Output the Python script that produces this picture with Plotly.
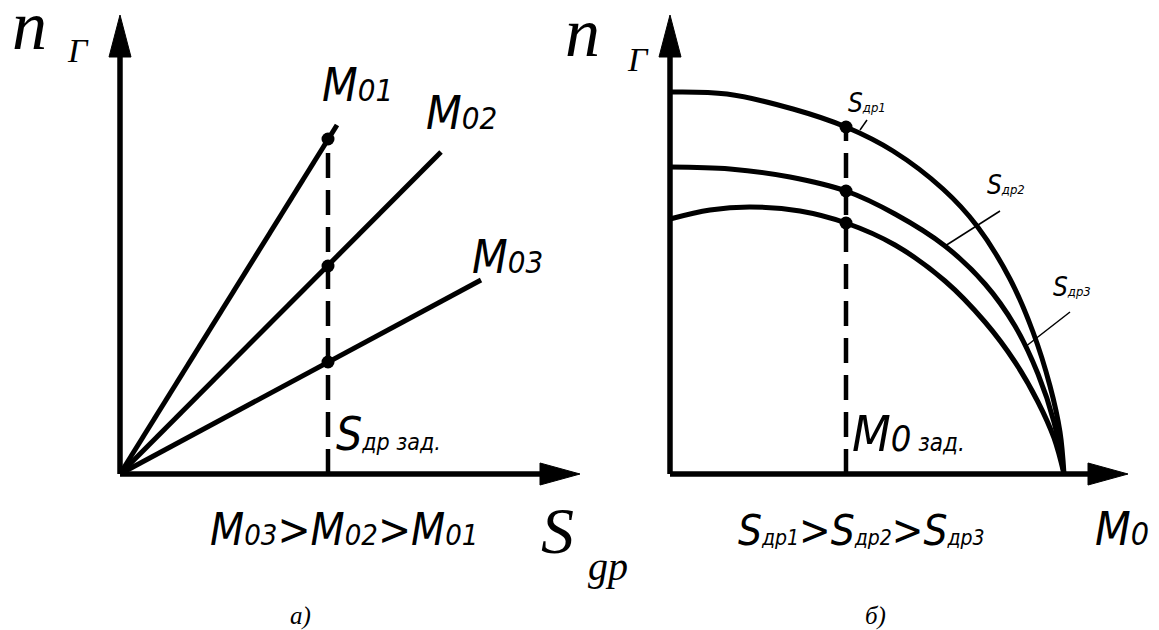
import plotly.graph_objects as go

# а) n_Г от S_др при разных M0 (лучи из начала координат)
s_zad = 208
m0_labels = ["01", "02", "03"]
m0_end_s = [217, 321, 361]
m0_end_n = [349, 322, 194]
m0_n_at_zad = [335, 208, 112]

# б) n_Г от M0 при разных S_др
m0_zad = 176
sdr_labels = ["1", "2", "3"]
c1_m0 = [0, 57, 123, 176, 223, 273, 307, 340, 363, 380, 390, 394]
c1_n = [382, 380, 365, 347, 323, 285, 248, 195, 142, 88, 42, 0]
c2_m0 = [0, 60, 120, 176, 225, 275, 315, 345, 368, 384, 394]
c2_n = [307, 305, 297, 283, 260, 228, 190, 148, 100, 52, 0]
c3_m0 = [0, 40, 80, 130, 176, 225, 275, 315, 345, 368, 384, 394]
c3_n = [255, 264, 267, 263, 251, 229, 193, 152, 112, 72, 36, 0]
sdr_n_at_zad = [347, 283, 251]

GOST = "Liberation Sans Narrow, DejaVu Sans Condensed, Arial Narrow, sans-serif"
SERIF = "Liberation Serif, DejaVu Serif, serif"

fig = go.Figure()

line_kw = dict(color="black", width=5)

# --- панель а) ---
for ex, ey in zip(m0_end_s, m0_end_n):
    fig.add_trace(go.Scatter(x=[0, ex], y=[0, ey], mode="lines",
                             line=line_kw, xaxis="x", yaxis="y"))
fig.add_trace(go.Scatter(x=[s_zad, s_zad], y=[0, max(m0_n_at_zad)], mode="lines",
                         line=dict(color="black", width=4.5, dash="25px,12px"),
                         xaxis="x", yaxis="y"))
fig.add_trace(go.Scatter(x=[s_zad] * 3, y=m0_n_at_zad, mode="markers",
                         marker=dict(color="black", size=13), xaxis="x", yaxis="y"))

# --- панель б) ---
for cx, cy in [(c1_m0, c1_n), (c2_m0, c2_n), (c3_m0, c3_n)]:
    fig.add_trace(go.Scatter(x=cx, y=cy, mode="lines", line_shape="spline",
                             line=dict(color="black", width=5, smoothing=1.0),
                             xaxis="x2", yaxis="y2"))
fig.add_trace(go.Scatter(x=[m0_zad, m0_zad], y=[0, max(sdr_n_at_zad)], mode="lines",
                         line=dict(color="black", width=4.5, dash="25px,12px"),
                         xaxis="x2", yaxis="y2"))
fig.add_trace(go.Scatter(x=[m0_zad] * 3, y=sdr_n_at_zad, mode="markers",
                         marker=dict(color="black", size=13), xaxis="x2", yaxis="y2"))

# выноски
leaders = [((190, 344), (197, 354)), ((275, 228), (330, 263)), ((355, 127), (400, 162))]
for (x0, y0), (x1, y1) in leaders:
    fig.add_shape(type="line", x0=x0, y0=y0, x1=x1, y1=y1, xref="x2", yref="y2",
                  line=dict(color="black", width=1.5))

# оси со стрелками
for xr, yr, ytip, xtip in [("x", "y", 459, 460), ("x2", "y2", 459, 458)]:
    fig.add_shape(type="line", x0=0, y0=0, x1=0, y1=ytip - 40, xref=xr, yref=yr,
                  line=dict(color="black", width=5.5))
    fig.add_shape(type="line", x0=0, y0=0, x1=xtip - 38, y1=0, xref=xr, yref=yr,
                  line=dict(color="black", width=5.5))
    fig.add_shape(type="path", path=f"M -11,{ytip - 42} L 0,{ytip} L 11,{ytip - 42} Z",
                  xref=xr, yref=yr, fillcolor="black", line=dict(color="black", width=1))
    fig.add_shape(type="path", path=f"M {xtip - 40},-11 L {xtip},0 L {xtip - 40},11 Z",
                  xref=xr, yref=yr, fillcolor="black", line=dict(color="black", width=1))


def txt(x, y, text, size, xr, yr, family=GOST, xanchor="left", yanchor="middle"):
    fig.add_annotation(x=x, y=y, xref=xr, yref=yr, text=text, showarrow=False,
                       xanchor=xanchor, yanchor=yanchor,
                       font=dict(family=family, size=size, color="black"))


def m0(sub, size, k=0.68):
    return f"<i>M<span style='font-size:{int(size * k)}px'>{sub}</span></i>"


def sdr(sub, size):
    return f"<i>S<span style='font-size:{int(size * 0.5)}px'>др{sub}</span></i>"


# подписи панели а)
txt(-110, 449, "<i>n</i>", 70, "x", "y", family=SERIF)
txt(-55, 424, "<i>Г</i>", 34, "x", "y", family=SERIF)
txt(200, 389, m0(m0_labels[0], 46), 46, "x", "y")
txt(304, 361, m0(m0_labels[1], 46), 46, "x", "y")
txt(350, 217, m0(m0_labels[2], 46), 46, "x", "y")
txt(214, 40, sdr(" зад.", 46), 46, "x", "y")
txt(88, -55, m0("03", 44) + "<i>&gt;</i>" + m0("02", 44) + "<i>&gt;</i>" + m0("01", 44),
    44, "x", "y")
txt(419, -56, "<i>S</i>", 66, "x", "y", family=SERIF)
txt(466, -92, "<i>gp</i>", 40, "x", "y", family=SERIF)
txt(168, -142, "<i>а)</i>", 25, "x", "y", family=SERIF)

# подписи панели б)
txt(-107, 442, "<i>n</i>", 70, "x2", "y2", family=SERIF)
txt(-45, 415, "<i>Г</i>", 34, "x2", "y2", family=SERIF)
txt(176, 371, sdr(sdr_labels[0], 26), 26, "x2", "y2")
txt(315, 289, sdr(sdr_labels[1], 26), 26, "x2", "y2")
txt(381, 187, sdr(sdr_labels[2], 26), 26, "x2", "y2")
txt(180, 40, "<i>M<span style='font-size:36px'>0</span>"
    "<span style='font-size:24px'> зад.</span></i>", 50, "x2", "y2")
txt(66, -56, sdr("1", 42) + "<i>&gt;</i>" + sdr("2", 42) + "<i>&gt;</i>" + sdr("3", 42),
    42, "x2", "y2")
txt(423, -55, "<i>M<span style='font-size:32px'>0</span></i>", 46, "x2", "y2")
txt(193, -142, "<i>б)</i>", 25, "x2", "y2", family=SERIF)

# страница рисуется со сдвигом 8 px (отступ body), поэтому начало координат
# панели а) в 112/466 px фигуры, панели б) в 662/466 px
ax_off = dict(visible=False, showgrid=False, zeroline=False, fixedrange=True)
fig.update_layout(
    width=1159, height=630,
    margin=dict(l=0, r=0, t=0, b=0),
    paper_bgcolor="white", plot_bgcolor="white",
    showlegend=False,
    xaxis=dict(domain=[0, 0.6], range=[-112, 0.6 * 1159 - 112], **ax_off),
    yaxis=dict(domain=[0, 1], range=[-164, 466], **ax_off),
    xaxis2=dict(domain=[0.45, 1], range=[0.45 * 1159 - 662, 1159 - 662], **ax_off),
    yaxis2=dict(domain=[0, 1], range=[-164, 466], anchor="x2", **ax_off),
)

fig.write_html("out.html")
